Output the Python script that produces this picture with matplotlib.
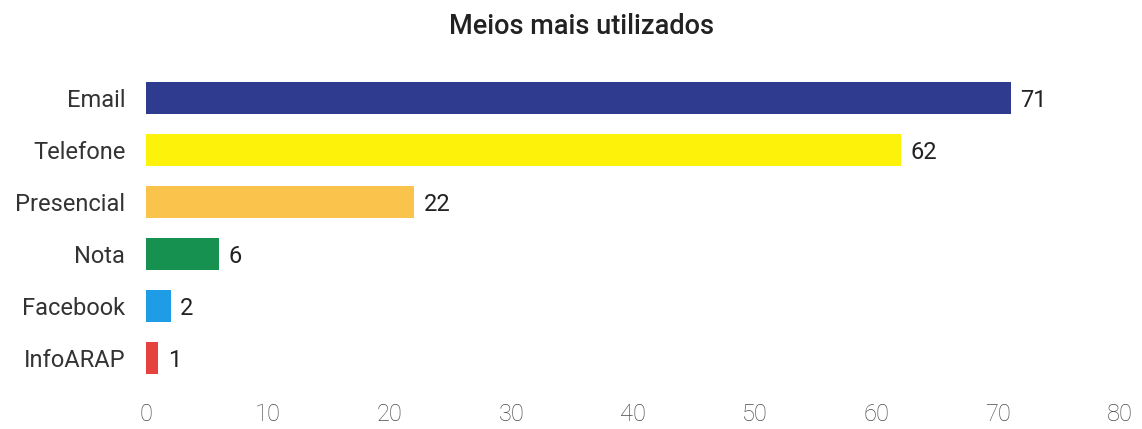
import matplotlib.pyplot as plt

categories = ['Email', 'Telefone', 'Presencial', 'Nota', 'Facebook', 'InfoARAP']
values = [71, 62, 22, 6, 2, 1]
colors = ['#2f3b8f', '#fdf20a', '#f9c34c', '#17914f', '#1f9ce6', '#e6423f']
xticks = [0, 10, 20, 30, 40, 50, 60, 70, 80]

plt.rcParams['font.family'] = ['Roboto', 'DejaVu Sans']

fig = plt.figure(figsize=(11.42, 4.29), dpi=100)
ax = fig.add_axes([0.128, 0.105, 0.853, 0.727])

y = list(range(len(categories)))
ax.barh(y, values, height=0.62, color=colors)
for yi, v in zip(y, values):
    ax.text(v + 0.8, yi + 0.05, str(v), va='center', ha='left', fontsize=17, color='#222222')

ax.set_yticks(y)
ax.set_yticklabels(categories, fontsize=17, color='#333333')
ax.set_ylim(len(categories) - 0.5, -0.5)
ax.set_xlim(0, 80)
ax.set_xticks(xticks)
ax.set_xticklabels([str(t) for t in xticks], fontsize=17, color='#4a4a4a', fontweight='light')
ax.tick_params(axis='both', length=0)
ax.tick_params(axis='x', pad=14)
ax.tick_params(axis='y', pad=15)
for s in ax.spines.values():
    s.set_visible(False)

fig.text(0.509, 0.938, 'Meios mais utilizados', ha='center', va='center',
         fontsize=19.5, fontweight='medium', color='#222222')

fig.savefig('out.png', dpi=100)
